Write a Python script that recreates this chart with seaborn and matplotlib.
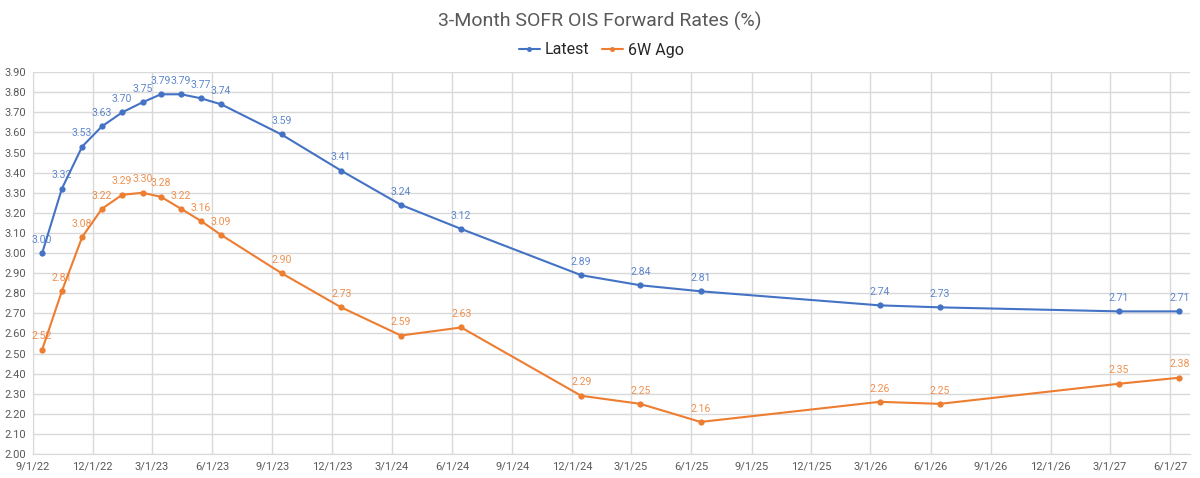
import matplotlib
matplotlib.use("Agg")
import matplotlib.pyplot as plt
import matplotlib.dates as mdates
import pandas as pd
import seaborn as sns

# forward start dates (mid-month)
dates = [
    "2022-09-15", "2022-10-15", "2022-11-15", "2022-12-15", "2023-01-15",
    "2023-02-15", "2023-03-15", "2023-04-15", "2023-05-15", "2023-06-15",
    "2023-09-15", "2023-12-15", "2024-03-15", "2024-06-15", "2024-12-15",
    "2025-03-15", "2025-06-15", "2026-03-15", "2026-06-15", "2027-03-15",
    "2027-06-15",
]
latest = [3.00, 3.32, 3.53, 3.63, 3.70, 3.75, 3.79, 3.79, 3.77, 3.74,
          3.59, 3.41, 3.24, 3.12, 2.89, 2.84, 2.81, 2.74, 2.73, 2.71, 2.71]
ago_6w = [2.52, 2.81, 3.08, 3.22, 3.29, 3.30, 3.28, 3.22, 3.16, 3.09,
          2.90, 2.73, 2.59, 2.63, 2.29, 2.25, 2.16, 2.26, 2.25, 2.35, 2.38]
series_names = ["Latest", "6W Ago"]
colors = ["#4472C4", "#ED7D31"]

df = pd.DataFrame({
    "date": pd.to_datetime(dates * 2),
    "rate": latest + ago_6w,
    "series": [series_names[0]] * len(dates) + [series_names[1]] * len(dates),
})

sns.set_style("white")
plt.rcParams["font.family"] = ["Roboto", "DejaVu Sans"]

fig = plt.figure(figsize=(12, 4.78), dpi=100)
ax = fig.add_axes([0.0275, 0.050, 0.964, 0.799])

sns.lineplot(data=df, x="date", y="rate", hue="series", palette=colors,
             marker="o", markersize=4.5, markeredgewidth=0, linewidth=1.5,
             ax=ax)

for name, col, vals in zip(series_names, colors, [latest, ago_6w]):
    for d, v in zip(pd.to_datetime(dates), vals):
        ax.annotate(f"{v:.2f}", (d, v), xytext=(0, 6), textcoords="offset points",
                    ha="center", va="bottom", fontsize=7.6, color=col, alpha=0.85)

ax.set_ylim(2.0, 3.9)
ax.set_yticks([2.0 + 0.1 * i for i in range(20)])
ax.yaxis.set_major_formatter(plt.FuncFormatter(lambda v, p: f"{v:.2f}"))
ax.set_xlim(pd.Timestamp("2022-09-01"), pd.Timestamp("2027-07-01"))
ax.xaxis.set_major_locator(mdates.MonthLocator(bymonth=[3, 6, 9, 12], bymonthday=1))
ax.xaxis.set_major_formatter(plt.FuncFormatter(
    lambda v, p: (lambda d: f"{d.month}/{d.day}/{d:%y}")(mdates.num2date(v))))

ax.grid(True, color="#D9D9D9", linewidth=1)
for s in ["top", "right"]:
    ax.spines[s].set_visible(False)
ax.spines["left"].set_color("#D9D9D9")
ax.spines["bottom"].set_color("#D9D9D9")
ax.tick_params(axis="both", labelsize=8, colors="#595959", length=0, pad=5)
ax.set_xlabel("")
ax.set_ylabel("")

ax.legend(loc="center", bbox_to_anchor=(0.501, 1 - 50 / 478), bbox_transform=fig.transFigure,
          ncol=2, frameon=False, fontsize=11.5, handlelength=1.3, columnspacing=0.8,
          handletextpad=0.3, markerscale=0.8)
fig.suptitle("3-Month SOFR OIS Forward Rates (%)", y=0.976, fontsize=14, color="#595959")

fig.savefig("out.png", dpi=100)
